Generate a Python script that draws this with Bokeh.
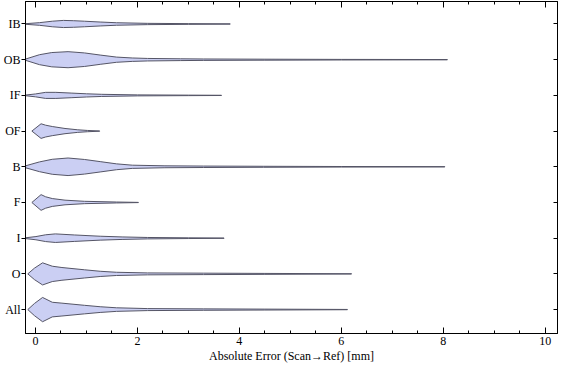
from bokeh.plotting import figure
from bokeh.models import FixedTicker, LinearAxis, Range1d, ColumnDataSource
from bokeh.embed import file_html
from bokeh.resources import INLINE

# Categories, bottom to top
categories = ["All", "O", "I", "F", "B", "OF", "IF", "OB", "IB"]

# Violin profiles: error value (mm) and half-width (category units)
ib_x = [-0.2, 0.08, 0.33, 0.55, 0.75, 0.96, 1.27, 1.59, 2.2, 3.0, 3.82]
ib_w = [0.008, 0.037, 0.078, 0.1, 0.092, 0.078, 0.055, 0.035, 0.018, 0.01, 0.004]

ob_x = [-0.2, 0.08, 0.32, 0.64, 0.96, 1.27, 1.59, 1.9, 2.2, 2.85, 3.3, 4.5, 6.0, 8.08]
ob_w = [0.015, 0.14, 0.2, 0.225, 0.19, 0.13, 0.073, 0.048, 0.035, 0.025, 0.02, 0.014, 0.008, 0.004]

if_x = [-0.2, 0.0, 0.2, 0.4, 0.7, 1.0, 1.3, 2.0, 3.0, 3.65]
if_w = [0.008, 0.04, 0.085, 0.085, 0.065, 0.045, 0.03, 0.014, 0.007, 0.003]

of_x = [-0.07, 0.11, 0.2, 0.33, 0.58, 0.83, 1.02, 1.26]
of_w = [0.0, 0.205, 0.165, 0.128, 0.073, 0.036, 0.018, 0.003]

b_x = [-0.2, 0.08, 0.33, 0.64, 0.96, 1.27, 1.59, 1.9, 2.54, 3.3, 4.47, 6.0, 8.03]
b_w = [0.025, 0.137, 0.21, 0.246, 0.205, 0.145, 0.082, 0.045, 0.027, 0.02, 0.014, 0.008, 0.004]

f_x = [-0.07, 0.11, 0.2, 0.33, 0.58, 0.96, 1.59, 2.02]
f_w = [0.0, 0.22, 0.16, 0.11, 0.065, 0.033, 0.013, 0.003]

i_x = [-0.2, 0.01, 0.2, 0.39, 0.77, 1.27, 1.7, 2.2, 3.0, 3.7]
i_w = [0.01, 0.045, 0.095, 0.12, 0.09, 0.055, 0.035, 0.02, 0.01, 0.004]

o_x = [-0.15, -0.02, 0.14, 0.33, 0.52, 0.96, 1.27, 1.59, 2.2, 3.3, 4.5, 6.2]
o_w = [0.0, 0.16, 0.31, 0.215, 0.178, 0.115, 0.073, 0.045, 0.027, 0.02, 0.013, 0.004]

all_x = [-0.15, -0.02, 0.14, 0.33, 0.52, 0.96, 1.27, 1.59, 2.2, 3.3, 4.5, 6.12]
all_w = [0.0, 0.17, 0.34, 0.205, 0.18, 0.12, 0.08, 0.05, 0.028, 0.02, 0.013, 0.004]

profiles = [(all_x, all_w), (o_x, o_w), (i_x, i_w), (f_x, f_w), (b_x, b_w),
            (of_x, of_w), (if_x, if_w), (ob_x, ob_w), (ib_x, ib_w)]

x_major = [0, 2, 4, 6, 8, 10]
x_minor = [k * 0.5 for k in range(0, 21)]
x_label = "Absolute Error (Scan\u2192Ref) [mm]"

FONT = "Liberation Serif"

xs, ys = [], []
for idx, (px, pw) in enumerate(profiles):
    c = idx + 1
    xs.append(list(px) + list(reversed(px)))
    ys.append([c + w for w in pw] + [c - w for w in reversed(pw)])
src = ColumnDataSource(dict(xs=xs, ys=ys))

p = figure(width=560, height=365, output_backend="svg", toolbar_location=None,
           x_range=Range1d(-0.195, 10.24), y_range=Range1d(0.33, 9.63),
           min_border_left=0, min_border_right=3, min_border_top=1, min_border_bottom=0)
p.grid.visible = False
p.outline_line_color = "black"
p.background_fill_color = "white"
p.border_fill_color = "white"

p.patches("xs", "ys", source=src, fill_color="#CBCFF3", line_color="#555566", line_width=1)

cat_ticks = list(range(1, len(categories) + 1))
overrides = {i + 1: name for i, name in enumerate(categories)}

# left axis
la = p.yaxis[0]
la.ticker = FixedTicker(ticks=cat_ticks)
la.major_label_overrides = overrides
la.major_tick_out = 4
la.major_tick_in = 0
la.minor_tick_out = 0
la.minor_tick_in = 0
la.major_label_standoff = 1
la.major_label_text_font = FONT
la.major_label_text_font_size = "12px"
la.major_label_text_color = "black"
la.axis_line_color = "black"

# bottom axis
ba = p.xaxis[0]
ba.ticker = FixedTicker(ticks=x_major, minor_ticks=x_minor)
ba.major_tick_in = 6
ba.major_tick_out = 0
ba.minor_tick_in = 3
ba.minor_tick_out = 0
ba.major_label_standoff = 3
ba.major_label_text_font = FONT
ba.major_label_text_font_size = "12px"
ba.major_label_text_color = "black"
ba.axis_label = x_label
ba.axis_label_text_font = FONT
ba.axis_label_text_font_size = "12px"
ba.axis_label_text_font_style = "normal"
ba.axis_label_text_color = "black"
ba.axis_label_standoff = 1
ba.axis_line_color = "black"

# top axis (ticks only)
ta = LinearAxis(ticker=FixedTicker(ticks=x_major, minor_ticks=x_minor))
ta.major_tick_in = 6
ta.major_tick_out = 0
ta.minor_tick_in = 3
ta.minor_tick_out = 0
ta.major_label_text_font_size = "1px"
ta.major_label_text_color = None
ta.major_label_standoff = 0
ta.axis_line_color = "black"
p.add_layout(ta, "above")

# right axis (ticks only)
ra = LinearAxis(ticker=FixedTicker(ticks=cat_ticks))
ra.major_tick_in = 4
ra.major_tick_out = 0
ra.minor_tick_in = 0
ra.minor_tick_out = 0
ra.major_label_text_font_size = "1px"
ra.major_label_text_color = None
ra.major_label_standoff = 0
ra.axis_line_color = "black"
p.add_layout(ra, "right")

open("out.html", "w").write(file_html(p, INLINE))
